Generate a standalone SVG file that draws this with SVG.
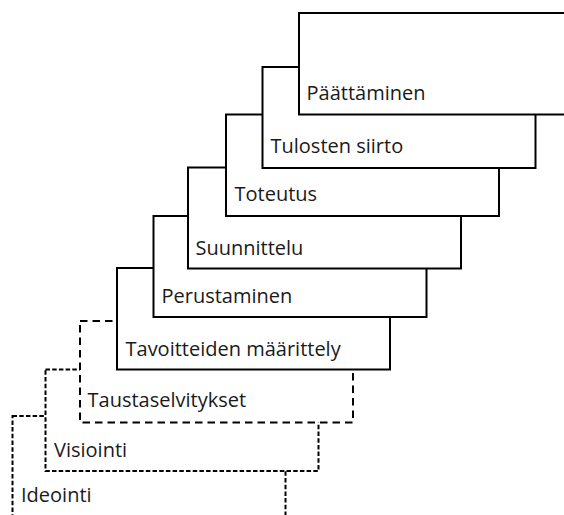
<svg xmlns="http://www.w3.org/2000/svg" width="564" height="515" viewBox="0 0 564 515">
<style>
.box{fill:#fff;stroke:#000;stroke-width:2}
.d1{stroke-dasharray:4.5 2.2}
.d2{stroke-dasharray:7.5 5}
.lbl{font-family:"Open Sans","Noto Sans",sans-serif;font-size:20px;fill:#1a1a1a}
</style>
<rect width="564" height="515" fill="#fff"/>
<g id="ideointi">
<rect class="box d1" x="12.5" y="416" width="273" height="110"/>
<text class="lbl" x="21" y="502">Ideointi</text>
</g>
<g id="visiointi">
<rect class="box d1" x="45.5" y="369.5" width="273" height="101.5"/>
<text class="lbl" x="54" y="456.5">Visiointi</text>
</g>
<g id="taustaselvitykset">
<rect class="box d2" x="80" y="321" width="273" height="101.5"/>
<text class="lbl" x="87.5" y="407">Taustaselvitykset</text>
</g>
<g id="tavoitteiden">
<rect class="box" x="117" y="268" width="273" height="101.5"/>
<text class="lbl" x="125.5" y="355.5">Tavoitteiden määrittely</text>
</g>
<g id="perustaminen">
<rect class="box" x="153.5" y="216" width="273" height="101"/>
<text class="lbl" x="161.5" y="302.5">Perustaminen</text>
</g>
<g id="suunnittelu">
<rect class="box" x="188" y="167.5" width="273" height="101"/>
<text class="lbl" x="195.5" y="254.5">Suunnittelu</text>
</g>
<g id="toteutus">
<rect class="box" x="226" y="114.5" width="273" height="101.5"/>
<text class="lbl" x="234.5" y="201">Toteutus</text>
</g>
<g id="tulosten">
<rect class="box" x="262.5" y="67" width="273" height="101"/>
<text class="lbl" x="270.5" y="153">Tulosten siirto</text>
</g>
<g id="paattaminen">
<rect class="box" x="299" y="13" width="273" height="101.5"/>
<text class="lbl" x="306.5" y="99.5">Päättäminen</text>
</g>
<g id="connectors"/>
</svg>
